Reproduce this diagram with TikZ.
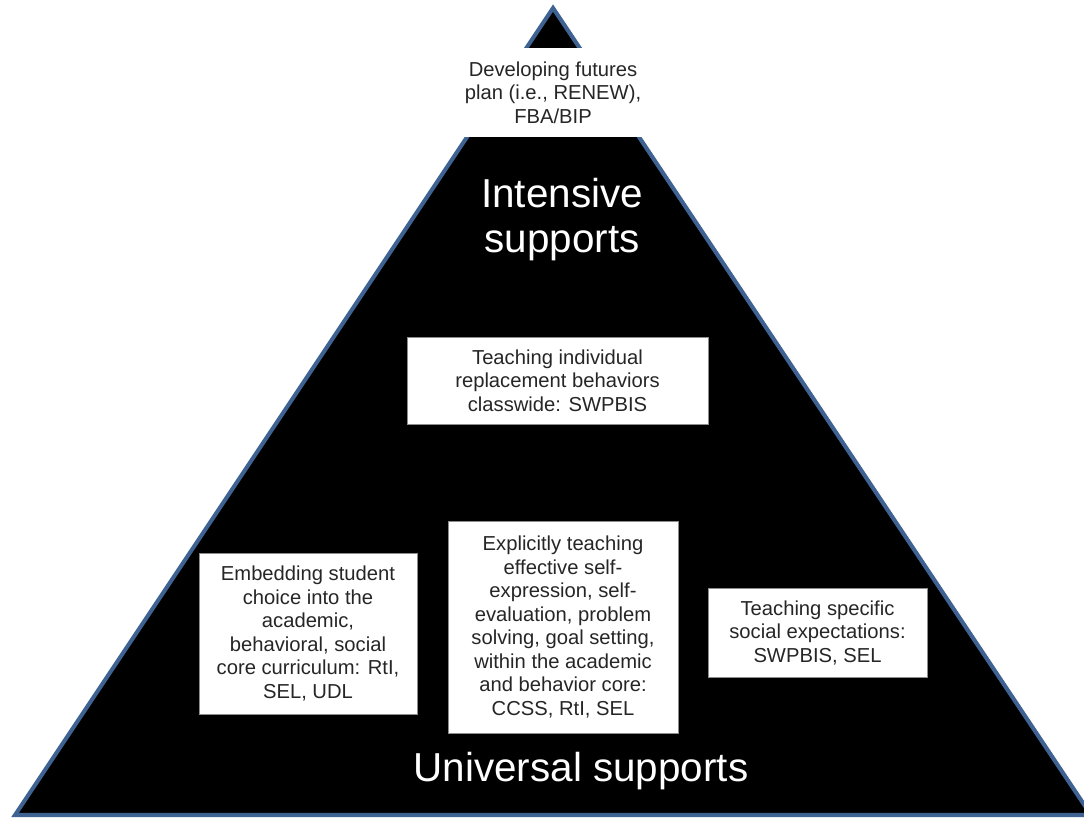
\documentclass[tikz,border=0pt]{standalone}
\usepackage{fontspec}
\setmainfont{Liberation Sans}
\usetikzlibrary{positioning}
\definecolor{tierblue}{RGB}{62,98,146}
\tikzset{%
	pyramid/.style  = {draw=tierblue, line width=2.3pt, fill=black, line join=miter},
	infobox/.style  = {draw=black!45, line width=0.4pt, fill=white, rectangle, align=center, inner sep=0pt, text=black!85, font=\fontsize{11.5}{13.4}\selectfont},
	peakbox/.style  = {fill=white, rectangle, align=center, inner sep=0pt, text=black!85, font=\fontsize{11.5}{13.4}\selectfont},
	tierlabel/.style = {text=white, align=center, inner sep=0pt, anchor=north, font=\fontsize{23}{25.5}\selectfont},
}
\begin{document}
\begin{tikzpicture}[x=0.02cm, y=-0.02cm]
	\useasboundingbox (0,0) rectangle (1084,819);
	\clip (0,0) rectangle (1084,819);
	\fill[white] (0,0) rectangle (1084,819);
	% pyramid
	\coordinate (apex) at (553,8);
	\coordinate (bl) at (15,815);
	\coordinate (br) at (1091,815);
	\draw[pyramid] (apex) -- (br) -- (bl) -- cycle;

	\node[peakbox, minimum width=4cm, minimum height=1.78cm] (peak) at (553,92.5) {Developing futures\\ plan (i.e., RENEW),\\ FBA/BIP};
	\node[tierlabel] (intensive) at (562,178) {Intensive\\ supports};
	\node[infobox, minimum width=6.02cm, minimum height=1.74cm] (replace) at (557.5,380.5) {Teaching individual\\ replacement behaviors\\ classwide: SWPBIS};
	\node[infobox, minimum width=4.36cm, minimum height=3.22cm] (choice) at (308,633.5) {Embedding student\\ choice into the\\ academic,\\ behavioral, social\\ core curriculum: RtI,\\ SEL, UDL};
	\node[infobox, minimum width=4.6cm, minimum height=4.24cm] (explicit) at (563,627) {Explicitly teaching\\ effective self-\\ expression, self-\\ evaluation, problem\\ solving, goal setting,\\ within the academic\\ and behavior core:\\ CCSS, RtI, SEL};
	\node[infobox, minimum width=4.38cm, minimum height=1.78cm] (social) at (817.5,632.5) {Teaching specific\\ social expectations:\\ SWPBIS, SEL};
	\node[tierlabel] (universal) at (581,752) {Universal supports};
\end{tikzpicture}
\end{document}
